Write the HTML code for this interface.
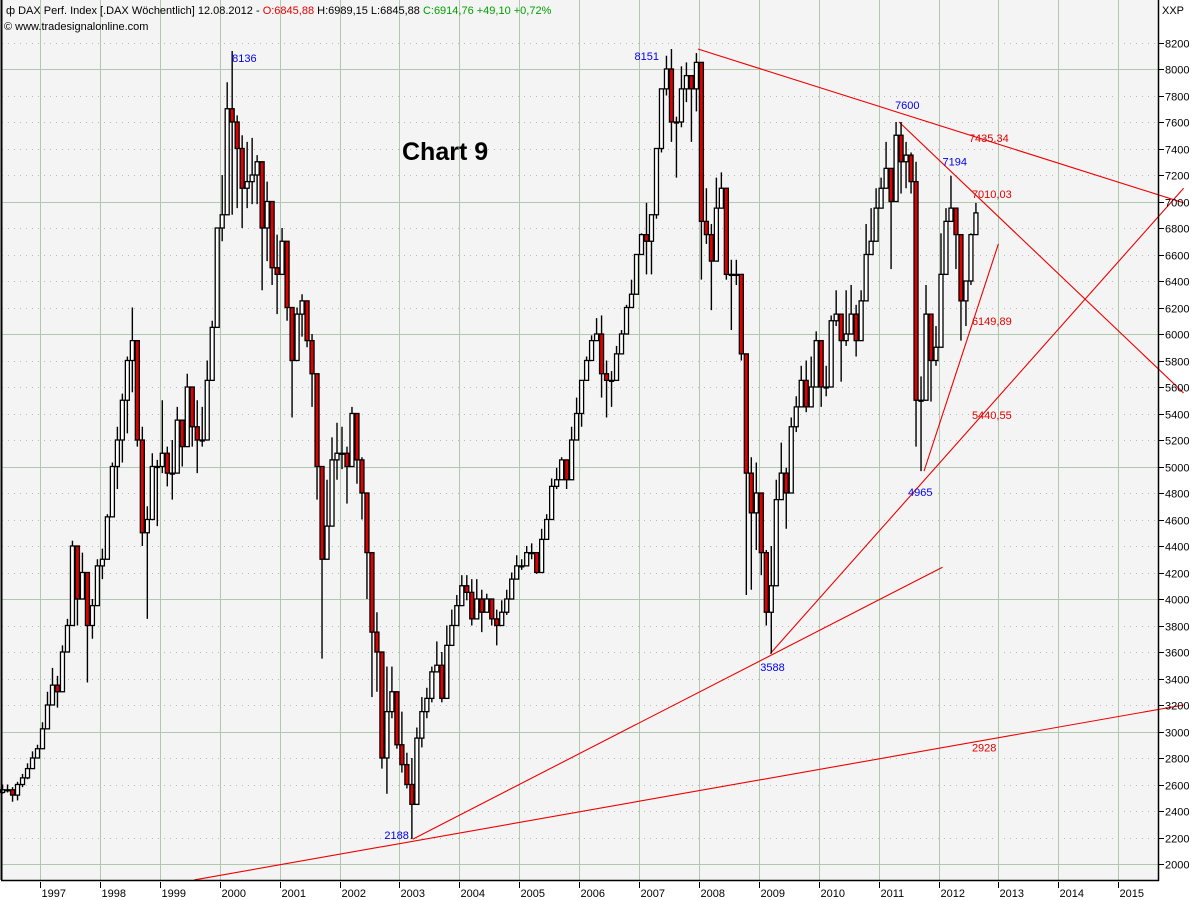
<!DOCTYPE html>
<html><head><meta charset="utf-8"><style>
body{margin:0;background:#fff;}
svg{display:block;font-family:"Liberation Sans",sans-serif;}
</style></head><body>
<svg id="chart" width="1200" height="900" viewBox="0 0 1200 900" xmlns="http://www.w3.org/2000/svg">
<rect x="1" y="0" width="1157" height="880" fill="#f4f4f4"/>
<g id="grid"></g>
<g id="trend"></g>
<g id="candles"></g>
<g id="labels"></g>
<line x1="1.5" y1="0" x2="1.5" y2="880" stroke="#000" stroke-width="2"/>
<line x1="1" y1="880.5" x2="1159" y2="880.5" stroke="#000" stroke-width="1.5"/>
<line x1="1158.5" y1="0" x2="1158.5" y2="881" stroke="#000" stroke-width="1.5"/>
<g id="axes"></g>
<text x="6" y="14" font-size="11" fill="#000"><tspan>ф DAX Perf. Index [.DAX  Wöchentlich] 12.08.2012 - </tspan><tspan fill="#e00000">O:6845,88</tspan><tspan> H:6989,15 L:6845,88 </tspan><tspan fill="#00a000">C:6914,76 +49,10 +0,72%</tspan></text>
<text x="4" y="30" font-size="11" fill="#000">© www.tradesignalonline.com</text>
<text x="402" y="160" font-size="25" font-weight="bold" fill="#000">Chart 9</text>
<text x="1162" y="14" font-size="11" fill="#000">XXP</text>
</svg>
<script>
const closes=[2560,2560,2520,2600,2650,2720,2800,2870,3020,3200,3350,3300,3600,3800,4400,4000,4200,3800,3950,4250,
4300,4620,5000,5200,5500,5800,5950,5200,4500,4600,5000,5000,5100,4950,4950,5350,5150,5600,5300,5200,
5200,5650,6050,6800,6900,7700,7600,7400,7100,7150,7200,7300,6800,7000,6500,6450,6700,6200,5800,6150,
6250,5950,5700,5000,4300,4550,5050,5100,5100,5000,5400,5050,4800,4350,3750,3600,2800,3150,3300,2900,
2750,2600,2450,2950,3150,3250,3450,3500,3250,3650,3800,3950,4100,4050,3850,4000,3900,4000,3850,3800,
3900,4000,4150,4250,4250,4350,4350,4200,4450,4600,4850,4900,5050,4900,5200,5400,5650,5800,5950,6000,
5700,5650,5650,5850,6000,6200,6300,6600,6750,6700,6900,7400,7850,8000,7600,7600,7850,7950,7850,8050,
6850,6750,6550,6950,7100,6450,6450,6450,5850,4950,4650,4800,4350,3900,4100,4750,4950,4800,5300,5450,
5650,5450,5600,5950,5600,5600,6100,6150,5950,6000,6150,5950,6250,6600,6700,6950,7100,7250,7000,7500,
7300,7350,7150,5500,5500,6150,5800,5900,6450,6850,6950,6750,6250,6400,6750,6914];
const highs=[2600,2600,2580,2620,2680,2760,2850,2900,3070,3300,3480,3420,3650,3850,4440,4300,4350,4200,4000,4300,
4380,4640,5030,5300,5550,5830,6200,5900,5300,4700,5100,5050,5500,5150,5200,5450,5330,5700,5600,5500,
5450,5800,6100,6800,7200,7900,8136,7650,7500,7450,7480,7350,6980,7150,6850,6750,6800,6600,6100,6200,
6300,6180,6000,5450,4750,4900,5220,5330,5300,5150,5450,5370,5070,4580,4180,3900,3490,3490,3490,3220,
3150,2840,2800,3030,3260,3330,3490,3680,3600,3800,3920,4030,4180,4180,4150,4150,4070,4040,3950,3920,
3990,4070,4200,4330,4300,4400,4420,4330,4530,4640,4910,4990,5070,4990,5300,5520,5640,5830,5990,6120,
6140,5800,5720,5910,6030,6220,6410,6600,6760,6990,6900,7400,7850,8100,8151,7640,8020,8050,7900,8120,
7830,7100,6830,7180,7220,6790,6560,6560,6300,5600,5070,5030,4750,4370,4400,4900,5180,4990,5370,5530,
5760,5800,5830,6020,5870,5760,6140,6330,6100,6330,6370,6220,6330,6830,6950,7100,7180,7450,7140,7600,
7600,7450,7370,7300,5680,6370,6060,6060,6760,6950,7194,6870,6520,6400,6760,6989];
const lows=[2530,2540,2470,2480,2580,2640,2720,2800,2880,3050,3200,3180,3400,3600,3900,3800,4050,3370,3700,4000,
4150,4300,4620,4830,5030,5250,5560,5150,4400,3850,4600,4550,4950,4850,4750,5200,5000,5450,5150,4950,
5150,5450,5800,6050,6700,7050,6900,6950,6800,6950,6980,6980,6330,6550,6370,6150,6520,6100,5370,5900,
5980,5900,5450,4750,3550,4370,4870,4900,4980,4720,5000,4870,4600,4000,3260,3300,2720,2530,3100,2870,
2690,2570,2188,2720,2880,3100,3220,3450,3220,3500,3750,3910,4070,3990,3800,3880,3750,3900,3800,3650,
3880,3880,4100,4200,4220,4330,4300,4190,4300,4530,4720,4830,4910,4830,4990,5300,5300,5680,5830,5950,
5520,5370,5450,5720,5870,6060,6220,6450,6600,6450,6450,6870,7370,7800,7450,7180,7560,7750,7450,7680,
6410,6680,6180,6870,7060,6410,6030,6370,5800,4030,4070,4370,4180,3800,3588,4370,4840,4530,4990,5260,
5530,5410,5530,5800,5450,5530,5870,6060,5640,5910,6060,5830,6140,6480,6680,6950,7020,7140,6490,7250,
7060,7100,7060,5150,4965,5600,5490,5760,6180,6760,6870,6490,5950,6060,6370,6845];
const yTicks=[2000,2200,2400,2600,2800,3000,3200,3400,3600,3800,4000,4200,4400,4600,4800,5000,5200,5400,5600,5800,6000,6200,6400,6600,6800,7000,7200,7400,7600,7800,8000,8200];
const years=[1997,1998,1999,2000,2001,2002,2003,2004,2005,2006,2007,2008,2009,2010,2011,2012,2013,2014,2015];
// trend lines: [startMonthIndex, startValue, endMonthIndex, endValue]
const trendLines=[[139.3,8151,236.6,6990],[179.6,7600,236.6,5555],[82.2,2188,188.3,4240],[153.8,3588,236.6,7100],[184.6,4965,199.5,6680],[38.4,1880,236.6,3200]];
const annotations=[["8136",46,8053,"#0000ee"],["8151",126.6,8068,"#0000ee"],["7600",178.8,7700,"#0000ee"],["7194",188.3,7270,"#0000ee"],["4965",181.4,4777,"#0000ee"],["3588",151.8,3457,"#0000ee"],["2188",76.5,2189,"#0000ee"],
["7435,34",193.6,7449,"#e00000"],["7010,03",194.2,7026,"#e00000"],["6149,89",194.2,6068,"#e00000"],["5440,55",194.2,5358,"#e00000"],["2928",194.2,2850,"#e00000"]];

const NS='http://www.w3.org/2000/svg';
function xYear(yr){return 40+(yr-1997)*59.9;}
function xMonth(m){return xYear(1996+4/12+(m+0.5)/12);}
function yVal(v){return 69+(8000-v)*0.1325;}
function mk(tag,attrs,parent){const e=document.createElementNS(NS,tag);for(const k in attrs)e.setAttribute(k,attrs[k]);parent.appendChild(e);return e;}
const grid=document.getElementById('grid'),axes=document.getElementById('axes'),cg=document.getElementById('candles'),tg=document.getElementById('trend'),lg=document.getElementById('labels');
yTicks.forEach(v=>{
  const y=Math.round(yVal(v))+0.5;
  const solid=v%1000===0;
  const l=mk('line',{x1:2,x2:1158,y1:y,y2:y,stroke:solid?'#b0c8b0':'#b8b8b8','stroke-width':1,'stroke-dasharray':solid?'':'1 5'},grid);
  
  
  const t=mk('line',{x1:1159,x2:1164,y1:y,y2:y,stroke:'#000'},axes);
  
  
  const tx=mk('text',{x:1165,y:y+4,'font-size':11,fill:'#000'},axes);
  tx.textContent=v;
  
  
});
years.forEach(yr=>{
  const x=Math.round(xYear(yr))+0.5;
  const l=mk('line',{x1:x,x2:x,y1:0,y2:880,stroke:'#b0c8b0','stroke-width':1},grid);
  
  
  const t=mk('line',{x1:x,x2:x,y1:882,y2:888,stroke:'#000'},axes);
  
  
  const tx=mk('text',{x:x+1,y:897,'font-size':11,fill:'#000'},axes);
  tx.textContent=yr;
  
  
});
trendLines.forEach(t=>{
  const l=mk('line',{x1:xMonth(t[0]),y1:yVal(t[1]),x2:xMonth(t[2]),y2:yVal(t[3]),stroke:'#ee0000','stroke-width':1.1},tg);
  
  
});
closes.forEach((c,i)=>{
  const o=i===0?closes[0]-20:closes[i-1];
  const x=xMonth(i);
  const w=mk('line',{x1:x,x2:x,y1:yVal(highs[i]),y2:yVal(lows[i]),stroke:'#000','stroke-width':1.4},cg);
  
  
  const top=yVal(Math.max(o,c)),bot=yVal(Math.min(o,c));
  const b=mk('rect',{x:x-2,y:top,width:4,height:Math.max(1,bot-top),fill:c<o?'#e00000':'#fff',stroke:'#000','stroke-width':1.3},cg);
  
  
});
annotations.forEach(a=>{
  const t=mk('text',{x:xMonth(a[1]),y:yVal(a[2]),'font-size':11,fill:a[3]},lg);
  t.textContent=a[0];
  
  
});
</script>
</body></html>
